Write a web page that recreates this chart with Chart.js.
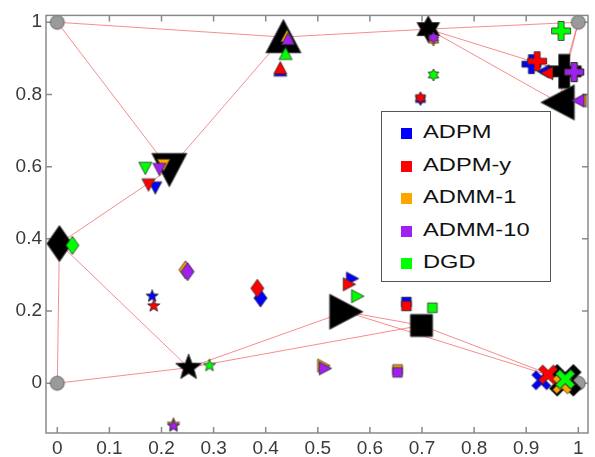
<!DOCTYPE html>
<html>
<head>
<meta charset="utf-8">
<script src="https://cdn.jsdelivr.net/npm/chart.js@4"></script>
<style>
  html, body { margin: 0; padding: 0; background: #fff; }
  #wrap { position: relative; width: 595px; height: 457px; }
  #legend { position: absolute; left: 381px; top: 111px; width: 170px; height: 171px;
            border: 1px solid #555; background: #fff; box-sizing: border-box; }
  .row { position: absolute; left: 0; height: 24px; line-height: 24px; white-space: nowrap; }
  .sw { position: absolute; left: 19px; top: 7px; width: 11px; height: 11px; }
  .lab { position: absolute; left: 41px; top: 0; font: 18.5px "Liberation Sans", Arial, sans-serif;
         color: #111; transform: scaleX(1.28); transform-origin: left center; }
</style>
</head>
<body>
<div id="wrap">
  <canvas id="c" width="595" height="457"></canvas>
  <div id="legend"></div>
</div>
<script>
// axis ticks
var xTicks = [0, 0.1, 0.2, 0.3, 0.4, 0.5, 0.6, 0.7, 0.8, 0.9, 1];
var xTickLabels = ['0', '0.1', '0.2', '0.3', '0.4', '0.5', '0.6', '0.7', '0.8', '0.9', '1'];
var yTicks = [0, 0.2, 0.4, 0.6, 0.8, 1];
var yTickLabels = ['0', '0.2', '0.4', '0.6', '0.8', '1'];

// anchors (grey circles)
var anchorX = [0, 0, 1, 1];
var anchorY = [0, 1, 0, 1];

// agents: true positions (black markers)
var agentShapes = ['diamond', 'triDown', 'triUp', 'hexagram', 'plus', 'triLeft', 'triRight', 'square', 'cross', 'pentagram'];
var agentX = [0.004, 0.215, 0.434, 0.712, 0.973, 0.962, 0.553, 0.699, 0.975, 0.252];
var agentY = [0.387, 0.593, 0.959, 0.981, 0.864, 0.778, 0.198, 0.160, 0.008, 0.043];

// estimates by method (same agent order)
var seriesNames = ['ADPM', 'ADPM-y', 'ADMM-1', 'ADMM-10', 'DGD'];
var seriesColors = ['#0000ff', '#ff0000', '#ffa500', '#a020f0', '#00ff00'];
var adpmX    = [0.390, 0.188, 0.428, 0.697, 0.910, 0.933, 0.566, 0.670, 0.929, 0.182];
var adpmY    = [0.236, 0.542, 0.867, 0.786, 0.884, 0.864, 0.290, 0.225, 0.008, 0.241];
var adpmyX   = [0.384, 0.175, 0.428, 0.697, 0.921, 0.940, 0.560, 0.670, 0.942, 0.185];
var adpmyY   = [0.263, 0.550, 0.873, 0.791, 0.892, 0.859, 0.274, 0.214, 0.024, 0.214];
var admm1X   = [0.246, 0.204, 0.441, 0.722, 0.992, 1.004, 0.511, 0.653, 0.969, 0.223];
var admm1Y   = [0.314, 0.605, 0.962, 0.951, 0.862, 0.783, 0.049, 0.038, -0.003, -0.114];
var admm10X  = [0.250, 0.196, 0.443, 0.722, 0.992, 1.000, 0.514, 0.653, 0.975, 0.223];
var admm10Y  = [0.309, 0.593, 0.954, 0.957, 0.862, 0.783, 0.041, 0.030, 0.011, -0.119];
var dgdX     = [0.029, 0.169, 0.438, 0.722, 0.967, null, 0.576, 0.720, 0.975, 0.292];
var dgdY     = [0.382, 0.596, 0.913, 0.854, 0.976, null, 0.241, 0.209, 0.011, 0.049];

// communication links: node index (0-3 anchors, 4-13 agents)
var edges = [[1, 6], [6, 7], [7, 3], [1, 5], [5, 6], [5, 4], [4, 0], [4, 13], [13, 0],
             [13, 10], [13, 11], [10, 11], [10, 12], [11, 12], [12, 2], [7, 8], [7, 9], [3, 8], [3, 9]];

// marker images
function makeMarker(shape, fill, edge, big) {
  var c = document.createElement('canvas');
  var dim = big ? 42 : 22;
  c.width = c.height = dim;
  var g = c.getContext('2d');
  g.translate(dim / 2, dim / 2);
  g.beginPath();
  function poly(pts) {
    pts.forEach(function (p, i) { if (i) g.lineTo(p[0], p[1]); else g.moveTo(p[0], p[1]); });
    g.closePath();
  }
  function star(n, R, inner, rot) {
    var pts = [];
    for (var k = 0; k < 2 * n; k++) {
      var a = rot + k * Math.PI / n;
      var rr = k % 2 ? R * inner : R;
      pts.push([rr * Math.cos(a), rr * Math.sin(a)]);
    }
    poly(pts);
  }
  function rotPts(pts, ang) {
    return pts.map(function (p) {
      return [p[0] * Math.cos(ang) - p[1] * Math.sin(ang), p[0] * Math.sin(ang) + p[1] * Math.cos(ang)];
    });
  }
  var L = big ? 17.5 : 6.5, B = big ? 17.5 : 6.5;
  var tri = [[0, -L], [B, L * 0.9], [-B, L * 0.9]];
  if (shape === 'circle') g.arc(0, 0, 7, 0, Math.PI * 2);
  else if (shape === 'triUp') poly(tri);
  else if (shape === 'triDown') poly(rotPts(tri, Math.PI));
  else if (shape === 'triLeft') poly(rotPts(tri, -Math.PI / 2));
  else if (shape === 'triRight') poly(rotPts(tri, Math.PI / 2));
  else if (shape === 'diamond') { var a = big ? 12.5 : 6.5, b = big ? 18 : 9; poly([[0, -b], [a, 0], [0, b], [-a, 0]]); }
  else if (shape === 'square') { var h = big ? 11 : 4.8; g.rect(-h, -h, 2 * h, 2 * h); }
  else if (shape === 'hexagram') star(6, big ? 13 : 6, 0.577, -Math.PI / 2);
  else if (shape === 'pentagram') star(5, big ? 13.5 : 6.5, 0.42, -Math.PI / 2);
  else if (shape === 'plus' || shape === 'cross') {
    var r = shape === 'plus' ? (big ? 17 : 9.5) : (big ? 17 : 10.5), t = big ? 5.5 : 3;
    var p = [[-t, -r], [t, -r], [t, -t], [r, -t], [r, t], [t, t], [t, r], [-t, r], [-t, t], [-r, t], [-r, -t], [-t, -t]];
    poly(shape === 'cross' ? rotPts(p, Math.PI / 4) : p);
  }
  g.fillStyle = fill;
  g.fill();
  g.lineWidth = big ? 1 : 0.8;
  g.strokeStyle = edge;
  g.stroke();
  return c;
}

var blackImgs = agentShapes.map(function (sh) { return makeMarker(sh, '#000', '#333', true); });
var anchorImg = makeMarker('circle', '#9a9a9a', '#666', true);

function pts(xs, ys) {
  return xs.map(function (v, i) { return { x: v, y: ys[i] }; });
}

var nodeX = anchorX.concat(agentX);
var nodeY = anchorY.concat(agentY);

var datasets = [];
edges.forEach(function (e) {
  datasets.push({
    data: [{ x: nodeX[e[0]], y: nodeY[e[0]] }, { x: nodeX[e[1]], y: nodeY[e[1]] }],
    showLine: true, borderColor: 'rgba(240,80,80,0.65)', borderWidth: 1,
    pointRadius: 0, order: 100
  });
});
datasets.push({ data: pts(anchorX, anchorY), pointStyle: anchorImg, order: 90 });
datasets.push({
  data: pts(agentX, agentY),
  pointStyle: function (ctx) { return blackImgs[ctx.dataIndex]; }, order: 80
});

var seriesX = [adpmX, adpmyX, admm1X, admm10X, dgdX];
var seriesY = [adpmY, adpmyY, admm1Y, admm10Y, dgdY];
seriesNames.forEach(function (name, k) {
  var imgs = agentShapes.map(function (sh) { return makeMarker(sh, seriesColors[k], '#2a2a2a', false); });
  datasets.push({
    label: name,
    data: pts(seriesX[k], seriesY[k]),
    pointStyle: function (ctx) { return imgs[ctx.dataIndex]; },
    order: 10 - k
  });
});

var axesBox = {
  id: 'axesBox',
  beforeDatasetsDraw: function (chart) {
    var ctx = chart.ctx, a = chart.chartArea, x = chart.scales.x, y = chart.scales.y;
    ctx.save();
    ctx.strokeStyle = '#8a8a8a';
    ctx.lineWidth = 1.5;
    ctx.strokeRect(a.left, a.top, a.right - a.left, a.bottom - a.top);
    ctx.beginPath();
    xTicks.forEach(function (v) {
      var px = x.getPixelForValue(v);
      ctx.moveTo(px, a.bottom); ctx.lineTo(px, a.bottom - 6);
      ctx.moveTo(px, a.top); ctx.lineTo(px, a.top + 6);
    });
    yTicks.forEach(function (v) {
      var py = y.getPixelForValue(v);
      ctx.moveTo(a.left, py); ctx.lineTo(a.left + 6, py);
      ctx.moveTo(a.right, py); ctx.lineTo(a.right - 6, py);
    });
    ctx.stroke();
    ctx.restore();
  }
};

var tickFont = { family: '"Liberation Sans", Arial, sans-serif', size: 19 };

new Chart(document.getElementById('c'), {
  type: 'scatter',
  data: { datasets: datasets },
  options: {
    responsive: false,
    animation: false,
    layout: { padding: { top: 6, right: 7, left: 0, bottom: 0 } },
    plugins: { legend: { display: false }, tooltip: { enabled: false } },
    scales: {
      x: {
        type: 'linear', min: -0.0217, max: 1.0186,
        afterBuildTicks: function (s) { s.ticks = xTicks.map(function (v) { return { value: v }; }); },
        afterFit: function (s) { s.height = 24; },
        grid: { display: false, drawTicks: false },
        border: { display: false },
        ticks: { font: tickFont, color: '#3a3a3a', padding: 4, maxRotation: 0, autoSkip: false,
                 callback: function (v, i) { return xTickLabels[i]; } }
      },
      y: {
        type: 'linear', min: -0.138, max: 1.019,
        afterBuildTicks: function (s) { s.ticks = yTicks.map(function (v) { return { value: v }; }); },
        afterFit: function (s) { s.width = 46; },
        grid: { display: false, drawTicks: false },
        border: { display: false },
        ticks: { font: tickFont, color: '#3a3a3a', padding: 4, autoSkip: false,
                 callback: function (v, i) { return yTickLabels[i]; } }
      }
    }
  },
  plugins: [axesBox]
});

// legend
var legend = document.getElementById('legend');
seriesNames.forEach(function (name, k) {
  var row = document.createElement('div');
  row.className = 'row';
  row.style.top = (9 + k * 32.5) + 'px';
  row.innerHTML = '<span class="sw" style="background:' + seriesColors[k] + '"></span><span class="lab">' + name + '</span>';
  legend.appendChild(row);
});
</script>
</body>
</html>
